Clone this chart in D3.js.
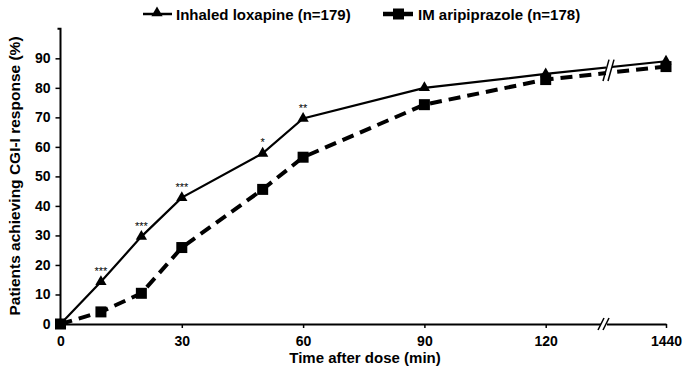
<!DOCTYPE html>
<html><head><meta charset="utf-8">
<script src="https://cdn.jsdelivr.net/npm/d3@7"></script>
<style>body{margin:0;background:#fff}svg{display:block;font-family:"Liberation Sans",Arial,sans-serif}</style>
</head><body><svg id="c" width="685" height="379"></svg>
<script>
const times = [0, 10, 20, 30, 50, 60, 90, 120, 1440];
const loxapine = [0, 14.3, 29.6, 42.8, 57.8, 69.6, 80.0, 84.7, 89.0];
const aripiprazole = [0, 4.1, 10.4, 25.9, 45.6, 56.5, 74.3, 82.8, 87.2];
const stars = ["", "***", "***", "***", "*", "**", "", "", ""];
const xTicks = [0, 30, 60, 90, 120, 1440];
const yTicks = [0, 10, 20, 30, 40, 50, 60, 70, 80, 90];
const seriesNames = ["Inhaled loxapine (n=179)", "IM aripiprazole (n=178)"];

const svg = d3.select("#c");
const x = d3.scaleLinear().domain([0, 120, 1440]).range([60.5, 545.7, 666]);
const y = d3.scaleLinear().domain([0, 100]).range([324, 28.8]);
const breakX = 606;

// axes
const xAxis = svg.append("g").attr("transform", "translate(0,324)")
  .call(d3.axisBottom(x).tickValues(xTicks).tickSize(4).tickSizeOuter(0).tickPadding(8).tickFormat(d3.format("d")));
const yAxis = svg.append("g").attr("transform", "translate(60.5,0)")
  .call(d3.axisLeft(y).tickValues(yTicks).tickSize(5).tickSizeOuter(0).tickPadding(5));
[xAxis, yAxis].forEach(g => {
  g.select(".domain").attr("stroke", "#000").attr("stroke-width", 2);
  g.selectAll(".tick line").attr("stroke", "#000").attr("stroke-width", 1.5);
  g.selectAll("text").attr("font-size", 14).attr("font-weight", "bold").attr("fill", "#000");
});
yAxis.select(".domain").attr("d", "M0," + y(0) + "V" + y(100) + "h-3");

// lines
const line = d3.line().x((d, i) => x(times[i])).y(d => y(d));
svg.append("path").datum(aripiprazole).attr("d", line).attr("fill", "none")
  .attr("stroke", "#000").attr("stroke-width", 4).attr("stroke-dasharray", "12,7");
svg.append("path").datum(loxapine).attr("d", line).attr("fill", "none")
  .attr("stroke", "#000").attr("stroke-width", 2.2);

// markers
svg.append("g").selectAll("rect").data(aripiprazole).join("rect")
  .attr("x", (d, i) => x(times[i]) - 5.5).attr("y", d => y(d) - 5.5)
  .attr("width", 11).attr("height", 11).attr("fill", "#000");
const tri = d3.symbol().type(d3.symbolTriangle).size(55);
svg.append("g").selectAll("path").data(loxapine).join("path")
  .attr("d", tri).attr("transform", (d, i) => `translate(${x(times[i])},${y(d)})`).attr("fill", "#000");

// asterisks
svg.append("g").selectAll("text").data(loxapine).join("text")
  .attr("x", (d, i) => x(times[i])).attr("y", d => y(d) - 7)
  .attr("text-anchor", "middle").attr("font-size", 11).text((d, i) => stars[i]);

// break marks
function brk(cx, cy, h) {
  svg.append("rect").attr("x", cx - 3).attr("y", cy - h / 2).attr("width", 6).attr("height", h).attr("fill", "#fff");
  [-3, 2].forEach(o => svg.append("line")
    .attr("x1", cx + o - 3).attr("y1", cy + h / 2).attr("x2", cx + o + 3).attr("y2", cy - h / 2)
    .attr("stroke", "#000").attr("stroke-width", 1.5));
}
const yLineAtBreak = (arr) => {
  const t = (breakX - x(120)) / (x(1440) - x(120));
  return y(arr[7] + t * (arr[8] - arr[7]));
};
brk(breakX - 2, 324, 12);
const yl = yLineAtBreak(loxapine), ya = yLineAtBreak(aripiprazole);
brk(breakX + 3, (yl + ya) / 2, (ya - yl) + 16);

// axis titles
svg.append("text").attr("x", 365).attr("y", 363).attr("text-anchor", "middle")
  .attr("font-size", 15).attr("font-weight", "bold").text("Time after dose (min)");
svg.append("text").attr("transform", "translate(20,176) rotate(-90)").attr("text-anchor", "middle")
  .attr("font-size", 15.5).attr("font-weight", "bold").text("Patients achieving CGI-I response (%)");

// legend
const lg = svg.append("g");
lg.append("line").attr("x1", 143).attr("x2", 172).attr("y1", 14).attr("y2", 14).attr("stroke", "#000").attr("stroke-width", 2.5);
lg.append("path").attr("d", tri).attr("transform", "translate(157,13)");
lg.append("text").attr("x", 176).attr("y", 19.5).attr("font-size", 15).attr("font-weight", "bold").text(seriesNames[0]);
lg.append("line").attr("x1", 383).attr("x2", 413).attr("y1", 14).attr("y2", 14).attr("stroke", "#000").attr("stroke-width", 4.5);
lg.append("rect").attr("x", 393).attr("y", 8.5).attr("width", 11).attr("height", 11);
lg.append("text").attr("x", 418).attr("y", 19.5).attr("font-size", 15).attr("font-weight", "bold").text(seriesNames[1]);
</script></body></html>
